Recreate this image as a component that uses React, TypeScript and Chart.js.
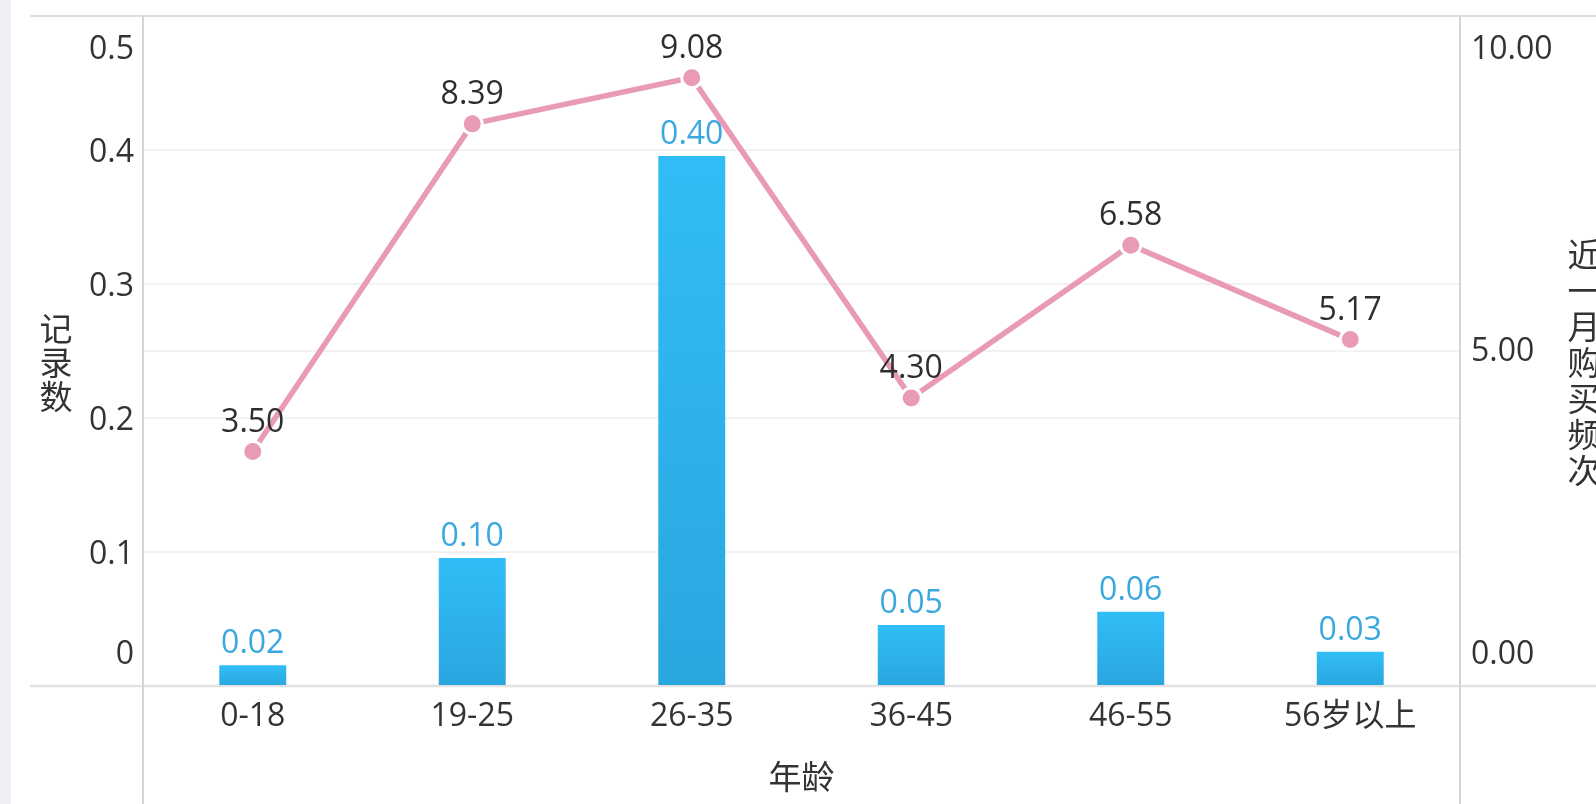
import React, { useEffect, useRef } from "react";
import { Chart, registerables } from "chart.js";

Chart.register(...registerables);

const categories = ["0-18", "19-25", "26-35", "36-45", "46-55", "56岁以上"];
const recordCounts = [0.0155, 0.0955, 0.3955, 0.0455, 0.0555, 0.0255];
const purchaseFreq = [3.5, 8.39, 9.08, 4.3, 6.58, 5.17];
const leftTicks = [0, 0.1, 0.2, 0.3, 0.4, 0.5];
const rightTicks = [0, 5, 10];
const leftTitle = "记录数";
const rightTitle = "近一月购买频次";
const xTitle = "年龄";

const FONT = '"Open Sans", "Noto Sans CJK SC", sans-serif';
const CJK = '"Noto Sans CJK SC", sans-serif';
const W = 1596;
const H = 804;

const framePlugin = {
  id: "frame",
  beforeDraw(chart: any) {
    const { ctx } = chart;
    ctx.save();
    ctx.fillStyle = "#eef0f5";
    ctx.fillRect(0, 0, 11, H);
    ctx.restore();
  },
  beforeDatasetsDraw(chart: any) {
    const { ctx, chartArea } = chart;
    const { left, right, top, bottom } = chartArea;
    ctx.save();
    ctx.lineWidth = 2;
    ctx.strokeStyle = "#dedede";
    ctx.beginPath();
    ctx.moveTo(30, top);
    ctx.lineTo(W, top);
    ctx.stroke();
    ctx.strokeStyle = "#e2e2e2";
    ctx.lineWidth = 2.5;
    ctx.beginPath();
    ctx.moveTo(30, bottom);
    ctx.lineTo(W, bottom);
    ctx.stroke();
    ctx.lineWidth = 2;
    ctx.strokeStyle = "#d4d4d4";
    ctx.beginPath();
    ctx.moveTo(left, top);
    ctx.lineTo(left, H);
    ctx.moveTo(right, top);
    ctx.lineTo(right, H);
    ctx.stroke();

    // tick labels
    const clamp = (v: number) => Math.max(top + 34, Math.min(bottom - 31, v));
    ctx.font = `32px ${FONT}`;
    ctx.fillStyle = "#333333";
    ctx.textBaseline = "middle";
    const ys = chart.scales.y;
    ctx.textAlign = "right";
    leftTicks.forEach((v) => {
      const py = clamp(ys.getPixelForValue(v) + 3);
      ctx.fillText(String(Math.round(v * 10) / 10), left - 9, py);
    });
    const y1 = chart.scales.y1;
    ctx.textAlign = "left";
    rightTicks.forEach((v) => {
      const py = clamp(y1.getPixelForValue(v) + 1);
      ctx.fillText(v.toFixed(2), right + 11, py);
    });

    // titles
    ctx.font = `33px ${CJK}`;
    ctx.textAlign = "center";
    const lt = Array.from(leftTitle);
    lt.forEach((ch, i) => ctx.fillText(ch, 56, 328 + i * 34));
    const rt = Array.from(rightTitle);
    rt.forEach((ch, i) => ctx.fillText(ch, 1584, 254 + i * 36));
    ctx.fillText(xTitle, (left + right) / 2, 776);
    ctx.restore();
  },
  afterDatasetsDraw(chart: any) {
    const { ctx } = chart;
    ctx.save();
    ctx.font = `32px ${FONT}`;
    ctx.textAlign = "center";
    ctx.textBaseline = "alphabetic";
    const barMeta = chart.getDatasetMeta(1);
    ctx.fillStyle = "#3aa8de";
    barMeta.data.forEach((el: any, i: number) => {
      ctx.fillText(recordCounts[i].toFixed(2), el.x, el.y - 12);
    });
    const lineMeta = chart.getDatasetMeta(0);
    ctx.fillStyle = "#2e2e2e";
    lineMeta.data.forEach((el: any, i: number) => {
      ctx.fillText(purchaseFreq[i].toFixed(2), el.x, el.y - 20);
    });
    ctx.restore();
  },
};

export default function App() {
  const ref = useRef<HTMLCanvasElement | null>(null);
  useEffect(() => {
    const canvas = ref.current;
    if (!canvas) return;
    const chart = new Chart(canvas, {
      data: {
        labels: categories,
        datasets: [
          {
            type: "line",
            label: rightTitle,
            data: purchaseFreq,
            yAxisID: "y1",
            borderColor: "#e99ab5",
            borderWidth: 5.5,
            pointRadius: 10,
            pointBackgroundColor: "#e99ab5",
            pointBorderColor: "#ffffff",
            pointBorderWidth: 3,
            tension: 0,
            order: 0,
          },
          {
            type: "bar",
            label: leftTitle,
            data: recordCounts,
            yAxisID: "y",
            barPercentage: 0.305,
            categoryPercentage: 1,
            order: 1,
            backgroundColor: (c: any) => {
              const ch = c.chart;
              const ys = ch.scales && ch.scales.y;
              if (!ys || c.raw == null || !ch.chartArea) return "#2db4ee";
              const t = ys.getPixelForValue(c.raw);
              const b = ys.getPixelForValue(0);
              if (!Number.isFinite(t) || !Number.isFinite(b) || t === b) return "#2db4ee";
              const g = ch.ctx.createLinearGradient(0, t, 0, b);
              g.addColorStop(0, "#31bdf7");
              g.addColorStop(1, "#2aa6df");
              return g;
            },
          },
        ] as any,
      },
      options: {
        animation: false,
        responsive: false,
        maintainAspectRatio: false,
        layout: { padding: { top: 16, left: 0, right: 0, bottom: 0 } },
        plugins: { legend: { display: false }, tooltip: { enabled: false } },
        scales: {
          x: {
            grid: { display: false, drawTicks: false },
            border: { display: false },
            ticks: { color: "#333333", font: { size: 32, family: FONT }, padding: 12, maxRotation: 0, autoSkip: false },
            afterFit: (s: any) => {
              s.height = 118;
            },
          },
          y: {
            position: "left",
            min: 0,
            max: 0.5,
            afterBuildTicks: (s: any) => {
              s.ticks = leftTicks.map((v) => ({ value: v }));
            },
            ticks: { display: false },
            grid: {
              drawTicks: false,
              lineWidth: 2,
              color: (c: any) => (c.tick && (c.tick.value === 0 || c.tick.value === 0.5) ? "rgba(0,0,0,0)" : "#f2f2f2"),
            },
            border: { display: false },
            afterFit: (s: any) => {
              s.width = 143;
            },
          },
          y1: {
            position: "right",
            min: 0,
            max: 10,
            afterBuildTicks: (s: any) => {
              s.ticks = rightTicks.map((v) => ({ value: v }));
            },
            ticks: { display: false },
            grid: {
              drawTicks: false,
              lineWidth: 2,
              color: (c: any) => (c.tick && c.tick.value === 5 ? "#f2f2f2" : "rgba(0,0,0,0)"),
            },
            border: { display: false },
            afterFit: (s: any) => {
              s.width = 136;
            },
          },
        },
      } as any,
      plugins: [framePlugin],
    });
    return () => chart.destroy();
  }, []);

  return (
    <div style={{ position: "fixed", left: 0, top: 0, width: W, height: H, background: "#ffffff" }}>
      <canvas ref={ref} width={W} height={H} style={{ display: "block", width: W, height: H }} />
    </div>
  );
}
